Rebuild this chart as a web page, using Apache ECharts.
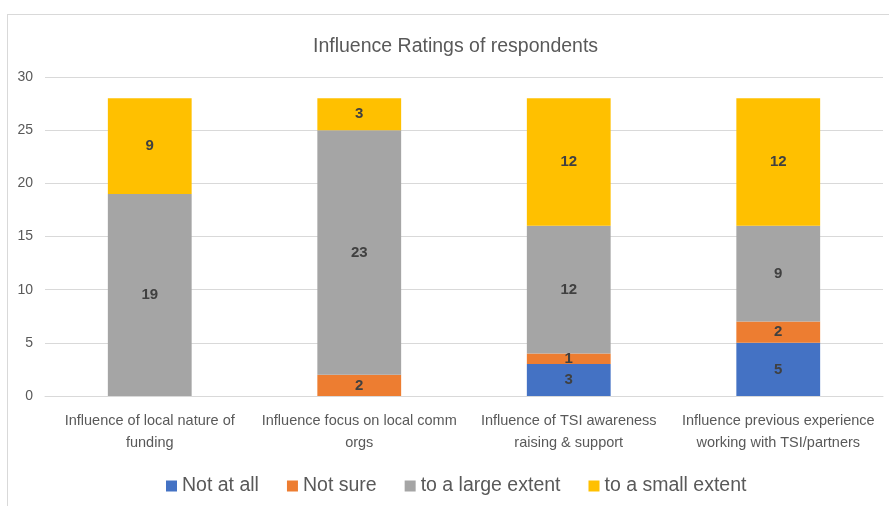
<!DOCTYPE html>
<html>
<head>
<meta charset="utf-8">
<script src="https://cdn.jsdelivr.net/npm/echarts@6/dist/echarts.min.js"></script>
<style>
  html, body { margin: 0; padding: 0; background: #fff; }
  #frame { position: absolute; left: 7px; top: 14px; width: 900px; height: 520px;
           border-left: 1px solid #d9d9d9; border-top: 1px solid #d9d9d9; }
  #chart { position: absolute; left: 0; top: 0; width: 889px; height: 506px; }
</style>
</head>
<body>
<div id="frame"></div>
<div id="chart"></div>
<script>
const categories = [
  'Influence of local nature of\nfunding',
  'Influence focus on local comm\norgs',
  'Influence of TSI awareness\nraising & support',
  'Influence previous experience\nworking with TSI/partners'
];
const notAtAll = [0, 0, 3, 5];
const notSure = [0, 2, 1, 2];
const largeExtent = [19, 23, 12, 9];
const smallExtent = [9, 3, 12, 12];
const yTicks = { min: 0, max: 30, interval: 5 };

const FONT = '"Liberation Sans", sans-serif';

function seriesOf(name, data, color) {
  return {
    name: name,
    type: 'bar',
    stack: 'total',
    data: data,
    barWidth: '40%',
    itemStyle: { color: color },
    label: {
      show: true,
      position: 'inside',
      fontFamily: FONT,
      fontSize: 15,
      fontWeight: 'bold',
      color: '#404040',
      formatter: p => (p.value === 0 ? '' : String(p.value))
    }
  };
}

const chart = echarts.init(document.getElementById('chart'), null, { renderer: 'canvas' });
chart.setOption({
  animation: false,
  title: {
    text: 'Influence Ratings of respondents',
    left: 308,
    top: 32,
    textStyle: { fontFamily: FONT, fontSize: 19.5, fontWeight: 'normal', color: '#595959' }
  },
  grid: { left: 45, right: 6, top: 77, bottom: 110 },
  legend: {
    bottom: 5,
    left: 161,
    itemWidth: 11,
    itemHeight: 11,
    itemGap: 28,
    icon: 'rect',
    textStyle: { fontFamily: FONT, fontSize: 19.5, color: '#595959' },
    data: ['Not at all', 'Not sure', 'to a large extent', 'to a small extent']
  },
  xAxis: {
    type: 'category',
    data: categories,
    axisLine: { lineStyle: { color: '#d9d9d9' } },
    axisTick: { show: false },
    axisLabel: { fontFamily: FONT, fontSize: 14.5, color: '#595959', lineHeight: 22, margin: 14, interval: 0 }
  },
  yAxis: {
    type: 'value',
    min: yTicks.min,
    max: yTicks.max,
    interval: yTicks.interval,
    axisLine: { show: false },
    axisTick: { show: false },
    splitLine: { lineStyle: { color: '#d9d9d9' } },
    axisLabel: { fontFamily: FONT, fontSize: 14, color: '#595959', margin: 12 }
  },
  series: [
    seriesOf('Not at all', notAtAll, '#4472C4'),
    seriesOf('Not sure', notSure, '#ED7D31'),
    seriesOf('to a large extent', largeExtent, '#A5A5A5'),
    seriesOf('to a small extent', smallExtent, '#FFC000')
  ]
});
</script>
</body>
</html>
